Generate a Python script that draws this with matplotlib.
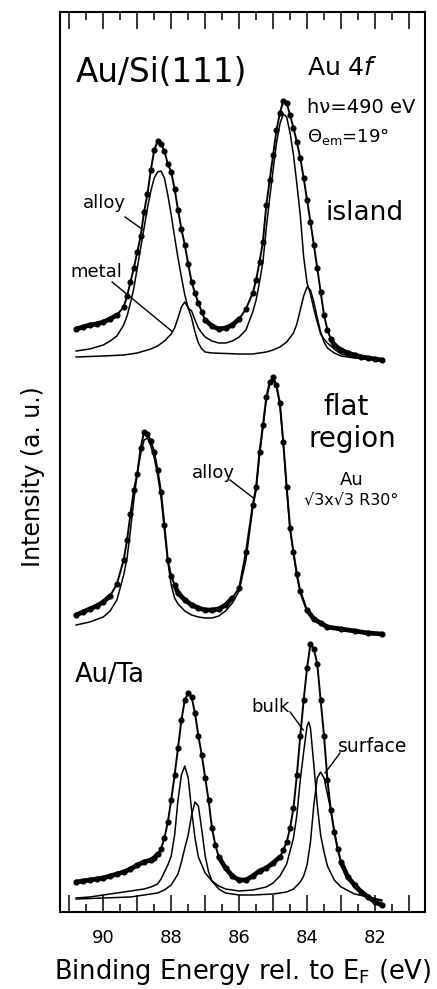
import matplotlib
matplotlib.use("Agg")
import matplotlib.pyplot as plt
from matplotlib.ticker import MultipleLocator

# ---- Au/Si(111) island: measured points (dots + fit envelope) ----
island_be = [90.8, 90.6, 90.4, 90.2, 90.0, 89.8, 89.6, 89.4, 89.3, 89.2, 89.1, 89.0, 88.9, 88.8,
             88.7, 88.6, 88.5, 88.4, 88.3, 88.2, 88.1, 88.0, 87.9, 87.8, 87.7, 87.6, 87.5, 87.4,
             87.3, 87.2, 87.1, 87.0, 86.8, 86.6, 86.4, 86.2, 86.0, 85.8, 85.6, 85.5, 85.4, 85.3,
             85.2, 85.1, 85.0, 84.9, 84.8, 84.7, 84.6, 84.5, 84.4, 84.3, 84.2, 84.1, 84.0, 83.9,
             83.8, 83.7, 83.6, 83.5, 83.4, 83.3, 83.2, 83.0, 82.8, 82.6, 82.4, 82.2, 82.0, 81.8]
island_int = [583, 585, 587, 588, 590, 593, 597, 605, 616, 630, 644, 660, 676, 700,
              718, 742, 762, 771, 768, 761, 748, 740, 723, 702, 683, 667, 648, 630,
              619, 609, 600, 592, 586, 583, 584, 587, 593, 603, 619, 632, 650, 670,
              707, 732, 757, 782, 799, 811, 809, 797, 784, 770, 754, 734, 712, 690,
              667, 644, 620, 597, 582, 573, 567, 562, 559, 557, 555, 554, 553, 552]

island_alloy_be = [90.8, 90.4, 90.0, 89.8, 89.6, 89.4, 89.3, 89.2, 89.1, 89.0, 88.9, 88.8, 88.7,
                   88.6, 88.5, 88.4, 88.3, 88.2, 88.1, 88.0, 87.9, 87.8, 87.7, 87.6, 87.5, 87.4,
                   87.3, 87.2, 87.1, 87.0, 86.8, 86.6, 86.4, 86.2, 86.0, 85.8, 85.6, 85.5, 85.4,
                   85.3, 85.2, 85.1, 85.0, 84.9, 84.8, 84.7, 84.6, 84.5, 84.4, 84.3, 84.2, 84.1,
                   84.0, 83.9, 83.8, 83.7, 83.6, 83.5, 83.4, 83.2, 83.0, 82.6, 82.2, 81.8]
island_alloy = [561, 563, 567, 571, 576, 587, 596, 609, 624, 644, 664, 684, 704,
                721, 734, 740, 741, 734, 717, 697, 675, 654, 635, 617, 604, 601,
                592, 584, 579, 575, 571, 569, 569, 571, 575, 582, 600, 612, 630,
                650, 684, 714, 742, 769, 788, 798, 795, 779, 757, 728, 697, 655,
                629, 618, 603, 590, 578, 573, 569, 563, 558, 555, 553, 552]

island_metal_be = [90.8, 90.0, 89.4, 89.0, 88.8, 88.6, 88.4, 88.2, 88.0, 87.9, 87.8, 87.7, 87.6,
                   87.5, 87.4, 87.3, 87.2, 87.1, 87.0, 86.8, 86.0, 85.6, 85.2, 85.0, 84.8, 84.6,
                   84.4, 84.3, 84.2, 84.1, 84.0, 83.9, 83.8, 83.7, 83.6, 83.5, 83.4, 83.2, 83.0,
                   82.6, 82.2, 81.8]
island_metal = [555, 556, 557, 559, 561, 563, 566, 571, 578, 584, 594, 605, 610,
                604, 594, 580, 569, 563, 560, 559, 558, 558, 560, 562, 565, 570,
                579, 588, 602, 616, 625, 622, 610, 594, 580, 570, 564, 559, 556,
                554, 553, 552]

# ---- flat region (Au sqrt3 x sqrt3 R30) ----
flat_be = [90.8, 90.6, 90.4, 90.2, 90.0, 89.8, 89.6, 89.4, 89.3, 89.2, 89.1, 89.0, 88.9, 88.8,
           88.7, 88.6, 88.5, 88.4, 88.3, 88.2, 88.1, 88.0, 87.9, 87.8, 87.6, 87.4, 87.2, 87.0,
           86.8, 86.6, 86.4, 86.2, 86.0, 85.8, 85.6, 85.5, 85.4, 85.3, 85.2, 85.1, 85.0, 84.9,
           84.8, 84.7, 84.6, 84.5, 84.4, 84.3, 84.2, 84.0, 83.8, 83.6, 83.4, 83.0, 82.6, 82.2,
           81.8]
flat_int = [297, 300, 303, 306, 310, 316, 328, 352, 372, 398, 422, 438, 464, 480,
            478, 471, 460, 442, 420, 387, 352, 336, 327, 319, 312, 307, 304, 302,
            302, 303, 307, 314, 324, 360, 407, 425, 460, 487, 515, 530, 535, 527,
            509, 470, 425, 384, 360, 338, 321, 302, 293, 289, 285, 283, 281, 279,
            278]

flat_alloy_be = [90.8, 90.4, 90.0, 89.8, 89.6, 89.4, 89.3, 89.2, 89.1, 89.0, 88.9, 88.8, 88.7,
                 88.6, 88.5, 88.4, 88.3, 88.2, 88.1, 88.0, 87.9, 87.8, 87.6, 87.4, 87.2, 87.0,
                 86.8, 86.6, 86.4, 86.2, 86.0, 85.8, 85.6, 85.5, 85.4, 85.3, 85.2, 85.1, 85.0,
                 84.9, 84.8, 84.7, 84.6, 84.5, 84.4, 84.3, 84.2, 84.0, 83.8, 83.6, 83.4, 83.0,
                 82.6, 82.2, 81.8]
flat_alloy = [287, 290, 295, 301, 312, 337, 354, 382, 412, 439, 458, 472, 474,
              466, 454, 437, 415, 382, 350, 327, 314, 308, 301, 297, 295, 294,
              294, 296, 301, 309, 321, 352, 404, 422, 457, 484, 512, 528, 532,
              525, 507, 468, 423, 382, 358, 336, 319, 300, 292, 288, 284, 282,
              280, 278, 277]

# ---- Au/Ta reference ----
ta_be = [90.8, 90.6, 90.4, 90.2, 90.0, 89.8, 89.6, 89.4, 89.2, 89.0, 88.8, 88.6, 88.5, 88.4,
         88.3, 88.2, 88.1, 88.0, 87.9, 87.8, 87.7, 87.6, 87.5, 87.4, 87.3, 87.2, 87.1, 87.0,
         86.9, 86.8, 86.7, 86.6, 86.4, 86.2, 86.0, 85.8, 85.6, 85.4, 85.2, 85.0, 84.8, 84.7,
         84.6, 84.5, 84.4, 84.3, 84.2, 84.1, 84.0, 83.9, 83.8, 83.7, 83.6, 83.5, 83.4, 83.3,
         83.2, 83.1, 83.0, 82.8, 82.6, 82.4, 82.2, 82.0, 81.8]
ta_int = [30, 31, 32, 33, 34, 36, 38, 40, 43, 47, 50, 52, 54, 58,
          63, 74, 90, 112, 137, 164, 192, 212, 219, 215, 199, 176, 157, 134,
          112, 84, 67, 55, 44, 36, 32, 32, 36, 41, 44, 49, 55, 62,
          70, 84, 104, 137, 176, 212, 244, 268, 263, 248, 212, 176, 132, 102,
          80, 63, 50, 35, 27, 20, 15, 10, 7]

ta_bulk_be = [90.8, 90.4, 90.0, 89.6, 89.2, 88.8, 88.6, 88.4, 88.3, 88.2, 88.1, 88.0, 87.9, 87.8,
              87.7, 87.6, 87.5, 87.4, 87.3, 87.2, 87.0, 86.8, 86.6, 86.4, 86.0, 85.6, 85.2, 85.0,
              84.8, 84.6, 84.4, 84.3, 84.2, 84.1, 84.0, 83.95, 83.9, 83.8, 83.7, 83.6, 83.5, 83.4,
              83.2, 83.0, 82.6, 82.2, 81.8]
ta_bulk = [14, 15, 17, 19, 21, 23, 25, 28, 33, 40, 47, 56, 77, 112,
           137, 146, 134, 102, 74, 55, 39, 31, 26, 23, 21, 22, 25, 29,
           36, 48, 74, 97, 132, 160, 186, 190, 184, 147, 107, 77, 60, 46,
           32, 25, 18, 15, 12]

ta_surf_be = [90.8, 90.0, 89.2, 88.8, 88.4, 88.2, 88.0, 87.8, 87.7, 87.6, 87.5, 87.4, 87.3, 87.2,
              87.1, 87.0, 86.9, 86.8, 86.6, 86.4, 86.0, 85.6, 85.0, 84.6, 84.4, 84.2, 84.1, 84.0,
              83.9, 83.8, 83.7, 83.6, 83.5, 83.4, 83.3, 83.2, 83.1, 83.0, 82.8, 82.6, 82.4, 82.0,
              81.8]
ta_surf = [13, 14, 15, 17, 19, 22, 27, 38, 50, 64, 77, 97, 110, 106,
           82, 56, 40, 31, 23, 19, 17, 17, 18, 20, 23, 30, 36, 47,
           70, 107, 134, 140, 134, 118, 102, 82, 64, 50, 34, 24, 18, 13,
           11]

# slow-varying stretches where the measured dots pile up into a dense band
island_bands = [(90.8, 89.5), (87.0, 85.9), (83.3, 81.8)]
flat_bands = [(90.8, 89.7), (87.9, 86.2), (84.1, 81.8)]
ta_bands = [(90.8, 88.4), (86.6, 84.8), (83.0, 81.8)]

xticks = [90, 88, 86, 84, 82]

fig = plt.figure(figsize=(4.37, 9.89), dpi=100)
ax = fig.add_axes([60 / 437, 77 / 989, 365 / 437, 900 / 989])

lw = 1.1
for be, y in [(island_alloy_be, island_alloy), (island_metal_be, island_metal),
              (flat_alloy_be, flat_alloy), (ta_bulk_be, ta_bulk), (ta_surf_be, ta_surf)]:
    ax.plot(be, y, color="black", lw=lw)

for be, y, bands in [(island_be, island_int, island_bands), (flat_be, flat_int, flat_bands),
                     (ta_be, ta_int, ta_bands)]:
    ax.plot(be, y, color="black", lw=1.4, marker="o", ms=3.4, mfc="black", mec="black")
    for hi, lo in bands:
        seg = [(b, v) for b, v in zip(be, y) if lo <= b <= hi]
        ax.plot([s[0] for s in seg], [s[1] for s in seg], color="black", lw=3.4,
                solid_capstyle="round")

ax.set_xlim(91.275, 80.527)
ax.set_ylim(0, 900)
ax.xaxis.set_major_locator(MultipleLocator(1))
ax.xaxis.set_minor_locator(MultipleLocator(0.5))
ax.set_xticklabels([])
for v in xticks:
    ax.text(v, -26, str(v), ha="center", va="center", fontsize=13, clip_on=False)
ax.tick_params(axis="x", which="major", direction="in", length=12, width=1.1, top=True)
ax.tick_params(axis="x", which="minor", direction="in", length=6, width=1.1, top=True)
ax.set_yticks([])
for s in ax.spines.values():
    s.set_linewidth(1.5)

ax.set_xlabel(r"Binding Energy rel. to E$_{\rm F}$ (eV)", fontsize=18.5, labelpad=29)
ax.set_ylabel("Intensity (a. u.)", fontsize=17, labelpad=11, y=0.484)

# panel texts
ax.text(90.80, 830, "Au/Si(111)", fontsize=23.5, ha="left", va="baseline")
ax.text(84.0, 837, r"Au 4$f$", fontsize=18, ha="left", va="baseline")
ax.text(84.0, 799, "h\u03bd=490 eV", fontsize=14, ha="left", va="baseline")
ax.text(84.0, 770, r"$\Theta_{\rm em}$=19°", fontsize=13, ha="left", va="baseline")
ax.text(83.47, 692, "island", fontsize=19, ha="left", va="baseline")
ax.text(90.60, 704, "alloy", fontsize=13, ha="left", va="baseline")
ax.plot([89.36, 88.82], [695, 682], color="black", lw=1.0)
ax.text(90.98, 635, "metal", fontsize=13, ha="left", va="baseline")
ax.plot([89.74, 87.99], [630, 581], color="black", lw=1.0)

ax.text(82.84, 497, "flat", fontsize=20, ha="center", va="baseline")
ax.text(82.66, 465, "region", fontsize=20, ha="center", va="baseline")
ax.text(82.69, 427, "Au", fontsize=13, ha="center", va="baseline")
ax.text(82.71, 407, "\u221a3x\u221a3 R30°", fontsize=11.5, ha="center", va="baseline")
ax.text(87.40, 434, "alloy", fontsize=13, ha="left", va="baseline")
ax.plot([86.27, 85.58], [432, 414], color="black", lw=1.0)

ax.text(90.83, 230, "Au/Ta", fontsize=18.5, ha="left", va="baseline")
ax.text(85.63, 200, "bulk", fontsize=13, ha="left", va="baseline")
ax.plot([84.50, 84.11], [200, 182], color="black", lw=1.0)
ax.text(83.09, 160, "surface", fontsize=13.5, ha="left", va="baseline")
ax.plot([83.03, 83.47], [159, 139], color="black", lw=1.0)

fig.savefig("out.png", dpi=100)
